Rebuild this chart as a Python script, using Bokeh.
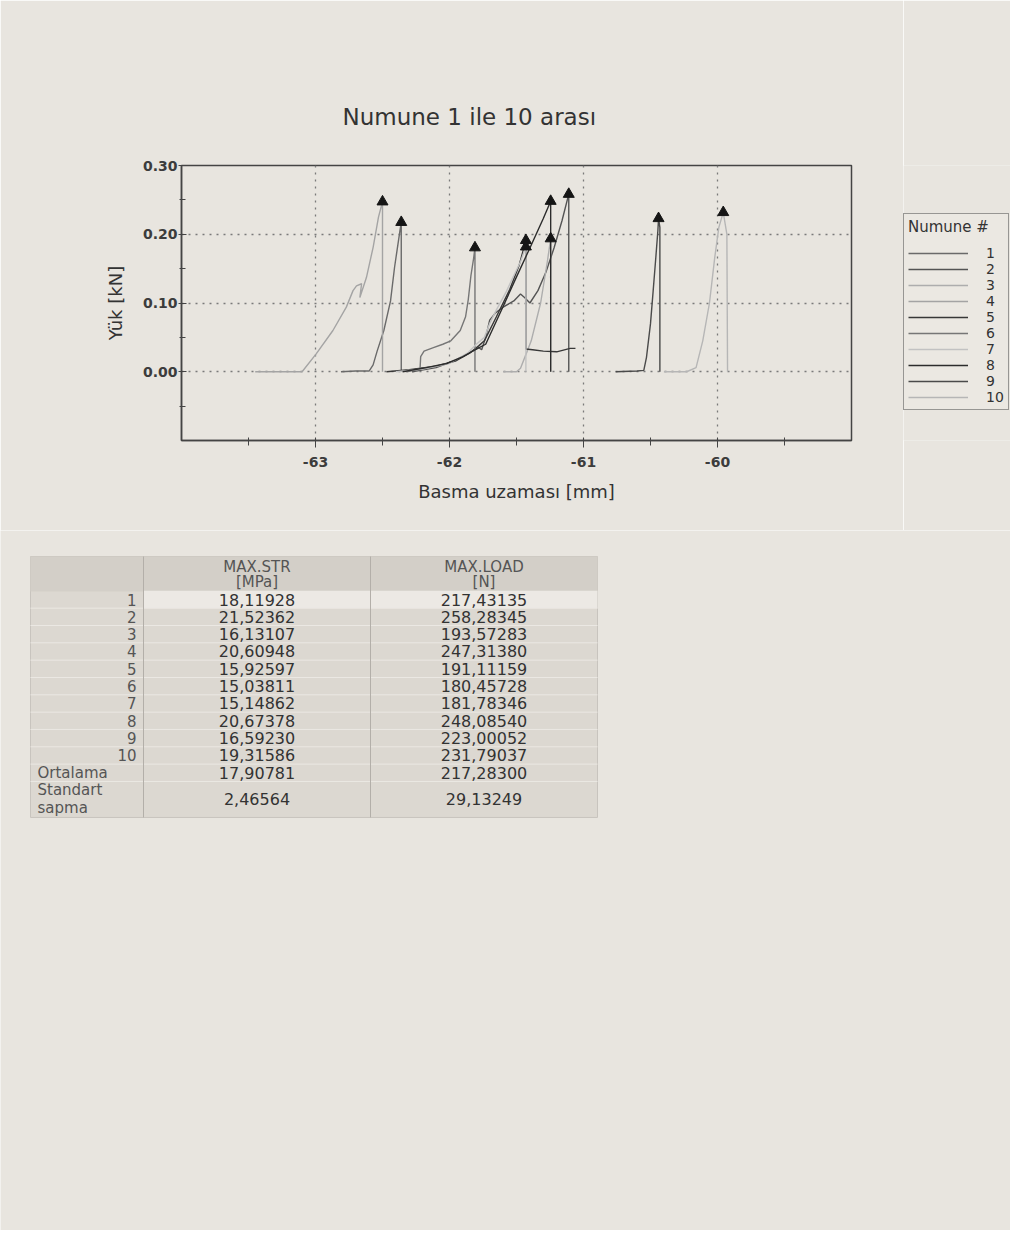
from bokeh.plotting import figure
from bokeh.models import Range1d, FixedTicker, Legend, LegendItem, CustomJSTickFormatter
from bokeh.layouts import row
from bokeh.embed import file_html
from bokeh.resources import INLINE
from bokeh.core.properties import value

FONT = "DejaVu Sans"
PAGE = "#e8e5df"

# ---------------- data ----------------
samples = ["1", "2", "3", "4", "5", "6", "7", "8", "9", "10"]

s1_x = [-62.81, -62.70, -62.60, -62.57, -62.54, -62.49, -62.44, -62.41, -62.37, -62.36, -62.36]
s1_y = [0.0, 0.001, 0.001, 0.01, 0.03, 0.06, 0.103, 0.152, 0.205, 0.2174, 0.0]

s2_x = [-62.28, -62.10, -61.95, -61.85, -61.78, -61.76, -61.73, -61.70, -61.66, -61.60, -61.52,
        -61.47, -61.44, -61.40, -61.34, -61.28, -61.22, -61.16, -61.11, -61.11]
s2_y = [0.0, 0.006, 0.017, 0.028, 0.035, 0.032, 0.05, 0.075, 0.085, 0.094, 0.103,
        0.113, 0.108, 0.100, 0.118, 0.145, 0.18, 0.22, 0.2583, 0.0]

s3_x = [-61.60, -61.50, -61.47, -61.42, -61.39, -61.32, -61.27, -61.245, -61.245]
s3_y = [0.0, 0.0, 0.005, 0.03, 0.045, 0.10, 0.16, 0.1936, 0.0]

s4_x = [-63.45, -63.10, -62.995, -62.87, -62.77, -62.72, -62.694, -62.656, -62.669, -62.62,
        -62.57, -62.53, -62.50, -62.50]
s4_y = [0.0, 0.0, 0.026, 0.06, 0.094, 0.118, 0.125, 0.128, 0.108, 0.137,
        0.181, 0.225, 0.2473, 0.0]

s5_x = [-62.47, -62.30, -62.10, -61.95, -61.85, -61.78, -61.74, -61.65, -61.55, -61.48, -61.43,
        -61.43, -61.38, -61.30, -61.20, -61.10, -61.06]
s5_y = [0.0, 0.003, 0.008, 0.016, 0.027, 0.038, 0.045, 0.08, 0.12, 0.155, 0.1911,
        0.033, 0.032, 0.030, 0.029, 0.034, 0.034]

s6_x = [-62.32, -62.22, -62.215, -62.19, -62.12, -62.05, -61.99, -61.92, -61.88, -61.86,
        -61.84, -61.82, -61.81, -61.81]
s6_y = [0.0, 0.004, 0.022, 0.03, 0.035, 0.04, 0.045, 0.06, 0.08, 0.105,
        0.14, 0.165, 0.1805, 0.0]

s7_x = [-62.40, -62.20, -62.00, -61.86, -61.80, -61.74, -61.70, -61.65, -61.58, -61.52,
        -61.47, -61.43, -61.43]
s7_y = [0.0, 0.004, 0.012, 0.028, 0.04, 0.05, 0.07, 0.09, 0.115, 0.14,
        0.16, 0.1818, 0.0]

s8_x = [-62.35, -62.20, -62.02, -61.90, -61.80, -61.73, -61.60, -61.50, -61.40, -61.30,
        -61.245, -61.245]
s8_y = [0.0, 0.005, 0.012, 0.022, 0.033, 0.04, 0.095, 0.138, 0.18, 0.223,
        0.2481, 0.0]

s9_x = [-60.76, -60.60, -60.55, -60.53, -60.50, -60.48, -60.46, -60.445, -60.44, -60.43, -60.43]
s9_y = [0.0, 0.001, 0.002, 0.021, 0.07, 0.118, 0.167, 0.205, 0.2230, 0.21, 0.0]

s10_x = [-60.40, -60.23, -60.16, -60.11, -60.06, -60.02, -59.99, -59.957, -59.93, -59.925]
s10_y = [0.0, 0.0, 0.006, 0.045, 0.10, 0.167, 0.21, 0.2318, 0.20, 0.0]

curves_x = [s1_x, s2_x, s3_x, s4_x, s5_x, s6_x, s7_x, s8_x, s9_x, s10_x]
curves_y = [s1_y, s2_y, s3_y, s4_y, s5_y, s6_y, s7_y, s8_y, s9_y, s10_y]

line_colors = ["#6a6a6a", "#545454", "#adadad", "#a4a4a4", "#383838",
               "#767676", "#c2c2c2", "#2c2c2c", "#4a4a4a", "#b6b6b6"]

x_major = [-63, -62, -61, -60]
x_minor = [-63.5, -62.5, -61.5, -60.5, -59.5]
y_major = [0.0, 0.1, 0.2, 0.3]
y_minor = [-0.05, 0.05, 0.15, 0.25]

row_labels = ["1", "2", "3", "4", "5", "6", "7", "8", "9", "10", "Ortalama"]
max_str = ["18,11928", "21,52362", "16,13107", "20,60948", "15,92597", "15,03811",
           "15,14862", "20,67378", "16,59230", "19,31586", "17,90781"]
max_load = ["217,43135", "258,28345", "193,57283", "247,31380", "191,11159", "180,45728",
            "181,78346", "248,08540", "223,00052", "231,79037", "217,28300"]
std_label = ["Standart", "sapma"]
std_str = "2,46564"
std_load = "29,13249"
head_str = ["MAX.STR", "[MPa]"]
head_load = ["MAX.LOAD", "[N]"]

# ---------------- chart ----------------
BT, BB = 165, 90
p = figure(width=903, height=530, x_range=Range1d(-64, -59), y_range=Range1d(-0.1, 0.3),
           output_backend="svg", toolbar_location=None,
           min_border_left=181, min_border_right=52, min_border_top=BT, min_border_bottom=BB,
           background_fill_color=PAGE, border_fill_color=PAGE)
p.outline_line_color = "#444444"
p.outline_line_width = 1.5

p.title.text = "Numune 1 ile 10 arası"
p.title.align = "left"
p.title.offset = 161
p.title.standoff = 71
p.title.text_font = FONT
p.title.text_font_size = "23px"
p.title.text_font_style = "normal"
p.title.text_color = "#333333"

p.xaxis.ticker = FixedTicker(ticks=x_major, minor_ticks=x_minor)
p.yaxis.ticker = FixedTicker(ticks=y_major, minor_ticks=y_minor)
p.xaxis.formatter = CustomJSTickFormatter(code="return tick.toFixed(0);")
p.yaxis.formatter = CustomJSTickFormatter(code="return tick.toFixed(2);")

for ax in (p.xaxis[0], p.yaxis[0]):
    ax.axis_line_color = "#444444"
    ax.axis_line_width = 1.5
    ax.major_tick_line_color = "#444444"
    ax.minor_tick_line_color = "#444444"
    ax.major_label_text_font = FONT
    ax.major_label_text_font_size = "14px"
    ax.major_label_text_font_style = "bold"
    ax.major_label_text_color = "#3c3c3c"
    ax.axis_label_text_font = FONT
    ax.axis_label_text_font_size = "18px"
    ax.axis_label_text_font_style = "normal"
    ax.axis_label_text_color = "#333333"

p.xaxis.axis_label = "Basma uzaması [mm]"
p.xaxis.major_tick_in = 3
p.xaxis.major_tick_out = 7
p.xaxis.minor_tick_in = 3
p.xaxis.minor_tick_out = 5
p.xaxis.major_label_standoff = 9
p.xaxis.axis_label_standoff = 11

p.yaxis.axis_label = "Yük [kN]"
p.yaxis.major_tick_in = 5
p.yaxis.major_tick_out = 3
p.yaxis.minor_tick_in = 4
p.yaxis.minor_tick_out = 2
p.yaxis.major_label_standoff = 1
p.yaxis.axis_label_standoff = 14

for g in (p.xgrid[0], p.ygrid[0]):
    g.grid_line_color = "#7a7a7a"
    g.grid_line_dash = "2 5"
    g.grid_line_width = 1.3

for xs, ys, c in zip(curves_x, curves_y, line_colors):
    p.line(xs, ys, line_color=c, line_width=1.4)

peak_x = []
peak_y = []
for xs, ys in zip(curves_x, curves_y):
    i = max(range(len(ys)), key=lambda k: ys[k])
    peak_x.append(xs[i])
    peak_y.append(ys[i])
p.scatter(peak_x, peak_y, marker="triangle", size=11, color="#151515")

# ---------------- legend panel (same curves, outside its view range) ----------------
lg = figure(width=107, height=530, x_range=Range1d(0, 1), y_range=Range1d(0, 1),
            output_backend="svg", toolbar_location=None,
            min_border_left=0, min_border_right=0, min_border_top=BT, min_border_bottom=BB,
            x_axis_type=None, y_axis_type=None,
            background_fill_color=PAGE, border_fill_color=PAGE)
lg.outline_line_color = None
lg.xgrid.visible = False
lg.ygrid.visible = False
lg_renderers = [lg.line(xs, ys, line_color=c, line_width=1.4)
                for xs, ys, c in zip(curves_x, curves_y, line_colors)]

legend = Legend(items=[LegendItem(label=s, renderers=[r]) for s, r in zip(samples, lg_renderers)],
                title="Numune #", location=(0, 30))
legend.margin = 0
legend.title_text_font = FONT
legend.title_text_font_size = "15px"
legend.title_text_font_style = "normal"
legend.title_text_color = "#333333"
legend.title_standoff = 9
legend.label_text_font = FONT
legend.label_text_font_size = "14px"
legend.label_text_color = "#333333"
legend.glyph_width = 60
legend.glyph_height = 14
legend.label_height = 14
legend.label_width = 18
legend.label_standoff = 18
legend.spacing = 0
legend.padding = 4
legend.border_line_color = "#444444"
legend.border_line_width = 1.2
legend.background_fill_color = "#ebe8e2"
legend.background_fill_alpha = 1.0
lg.add_layout(legend)

top = row(p, lg, spacing=0)

# ---------------- table ----------------
t = figure(width=1010, height=700, x_range=Range1d(0, 1010), y_range=Range1d(1230, 530),
           output_backend="svg", toolbar_location=None, min_border=0,
           x_axis_type=None, y_axis_type=None,
           background_fill_color=PAGE, border_fill_color=PAGE)
t.outline_line_color = None
t.xgrid.visible = False
t.ygrid.visible = False

T_LEFT, C1, C2, T_RIGHT = 30, 143, 370, 597
H_TOP, H_BOT = 556, 591
ROW0, ROW_H = 599.0, 17.33
n = len(row_labels)
row_y = [ROW0 + ROW_H * i for i in range(n)]
std_top = ROW0 - ROW_H / 2 + ROW_H * n
T_BOT = std_top + 36
col2_x = (C1 + C2) / 2
col3_x = (C2 + T_RIGHT) / 2

t.quad(left=[T_LEFT], right=[T_RIGHT], top=[H_TOP], bottom=[T_BOT],
       fill_color="#dcd8d1", line_color="#c8c4be", line_width=1)
t.quad(left=[T_LEFT], right=[T_RIGHT], top=[H_TOP], bottom=[H_BOT],
       fill_color="#d3cfc8", line_color=None)
t.quad(left=[C1], right=[T_RIGHT], top=[row_y[0] - ROW_H / 2], bottom=[row_y[0] + ROW_H / 2],
       fill_color="#ece9e4", line_color=None)
sep_y = [ROW0 - ROW_H / 2 + ROW_H * k for k in range(1, n + 1)]
t.segment(x0=[T_LEFT] * len(sep_y), x1=[T_RIGHT] * len(sep_y), y0=sep_y, y1=sep_y,
          line_color="#ebe8e3", line_width=1)
t.segment(x0=[C1, C2], x1=[C1, C2], y0=[H_TOP, H_TOP], y1=[T_BOT, T_BOT],
          line_color="#b3afa9", line_width=1)

lab = dict(text_font=value(FONT), text_font_size="15px", text_baseline="middle", text_color="#555555")
val = dict(text_font=value(FONT), text_font_size="16px", text_baseline="middle",
           text_align="center", text_color="#333333")
num_rows = row_labels[:-1]
t.text(x=[C1 - 7] * len(num_rows), y=row_y[:len(num_rows)], text=num_rows, text_align="right", **lab)
t.text(x=[T_LEFT + 7], y=[row_y[-1]], text=[row_labels[-1]], text_align="left", **lab)
t.text(x=[T_LEFT + 7] * 2, y=[std_top + 9, std_top + 27], text=std_label, text_align="left", **lab)
t.text(x=[col2_x] * n, y=row_y, text=max_str, **val)
t.text(x=[col3_x] * n, y=row_y, text=max_load, **val)
t.text(x=[col2_x], y=[std_top + 18], text=[std_str], **val)
t.text(x=[col3_x], y=[std_top + 18], text=[std_load], **val)

htxt = dict(text_font=value(FONT), text_font_size="15px", text_baseline="middle",
            text_align="center", text_color="#555555")
t.text(x=[col2_x] * 2, y=[566, 581], text=head_str, **htxt)
t.text(x=[col3_x] * 2, y=[566, 581], text=head_load, **htxt)

open("out.html", "w").write(file_html([top, t], INLINE))
